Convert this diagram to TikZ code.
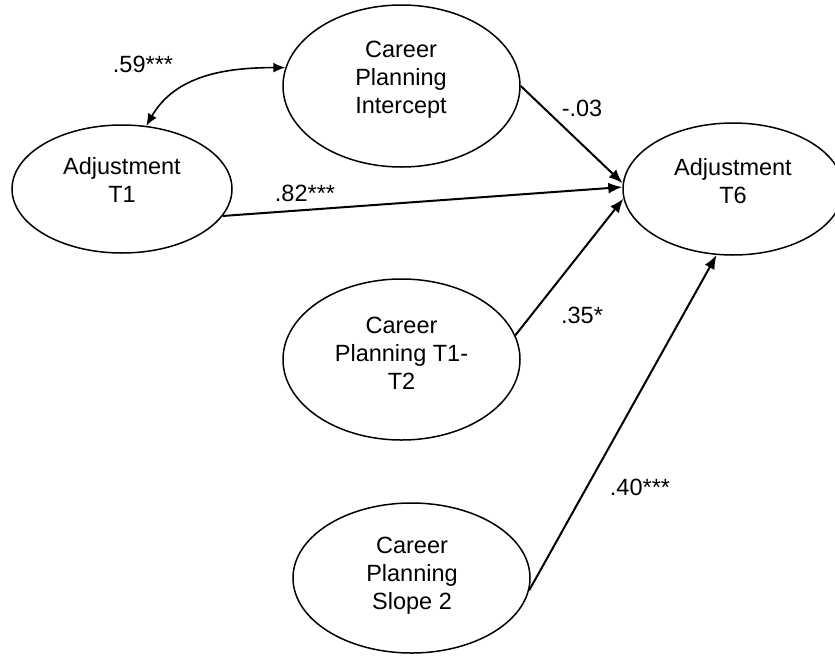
\documentclass[tikz,border=0pt]{standalone}
\usepackage{fontspec}
\setmainfont{Liberation Sans}
\usetikzlibrary{shapes.geometric,arrows.meta}
\begin{document}
\begin{tikzpicture}[x=1pt,y=-1pt,
  latent/.style={ellipse,draw,line width=1.5pt,inner sep=0pt},
  caption/.style={align=center,font=\fontsize{23.5}{28}\selectfont,inner sep=0pt},
  coef/.style={font=\fontsize{23.5}{28}\selectfont,inner sep=0pt},
  regpath/.style={line width=2pt,-{Latex[length=14pt,width=11pt]}},
  covpath/.style={line width=1.6pt,{Latex[length=12pt,width=10pt]}-{Latex[length=12pt,width=10pt]}}]
\useasboundingbox (0,0) rectangle (835,656);

% latent variables
\node[latent,minimum width=237pt,minimum height=162pt] (icpt) at (401.5,86) {};
\node[latent,minimum width=220pt,minimum height=128pt] (t1) at (122,189) {};
\node[latent,minimum width=220pt,minimum height=132pt] (t6) at (733,189) {};
\node[latent,minimum width=237pt,minimum height=161pt] (t12) at (401.5,359.5) {};
\node[latent,minimum width=237pt,minimum height=150pt] (slope) at (411.5,578) {};

% their captions
\node[caption] (icpttxt) at (401,80) {Career\\Planning\\Intercept};
\node[caption] (t1txt) at (122,180) {Adjustment\\T1};
\node[caption] (t6txt) at (733,181) {Adjustment\\T6};
\node[caption] (t12txt) at (401.5,353) {Career\\Planning T1-\\T2};
\node[caption] (slopetxt) at (412,576) {Career\\Planning\\Slope 2};

% paths
\draw[regpath] (icpt.0) -- (t6.177);
\draw[regpath] (t1.345) -- (t6.179);
\draw[regpath] (t12.12) -- (t6.185);
\draw[regpath] (slope.354) -- (t6.256);
\draw[covpath] (t1.69) to[out=60,in=180] (icpt.171);

% coefficients
\node[coef] (c59) at (143,64) {.59***};
\node[coef] (c03) at (582,108) {-.03};
\node[coef] (c82) at (305,193) {.82***};
\node[coef] (c35) at (582,315) {.35*};
\node[coef] (c40) at (640,487) {.40***};
\end{tikzpicture}
\end{document}
